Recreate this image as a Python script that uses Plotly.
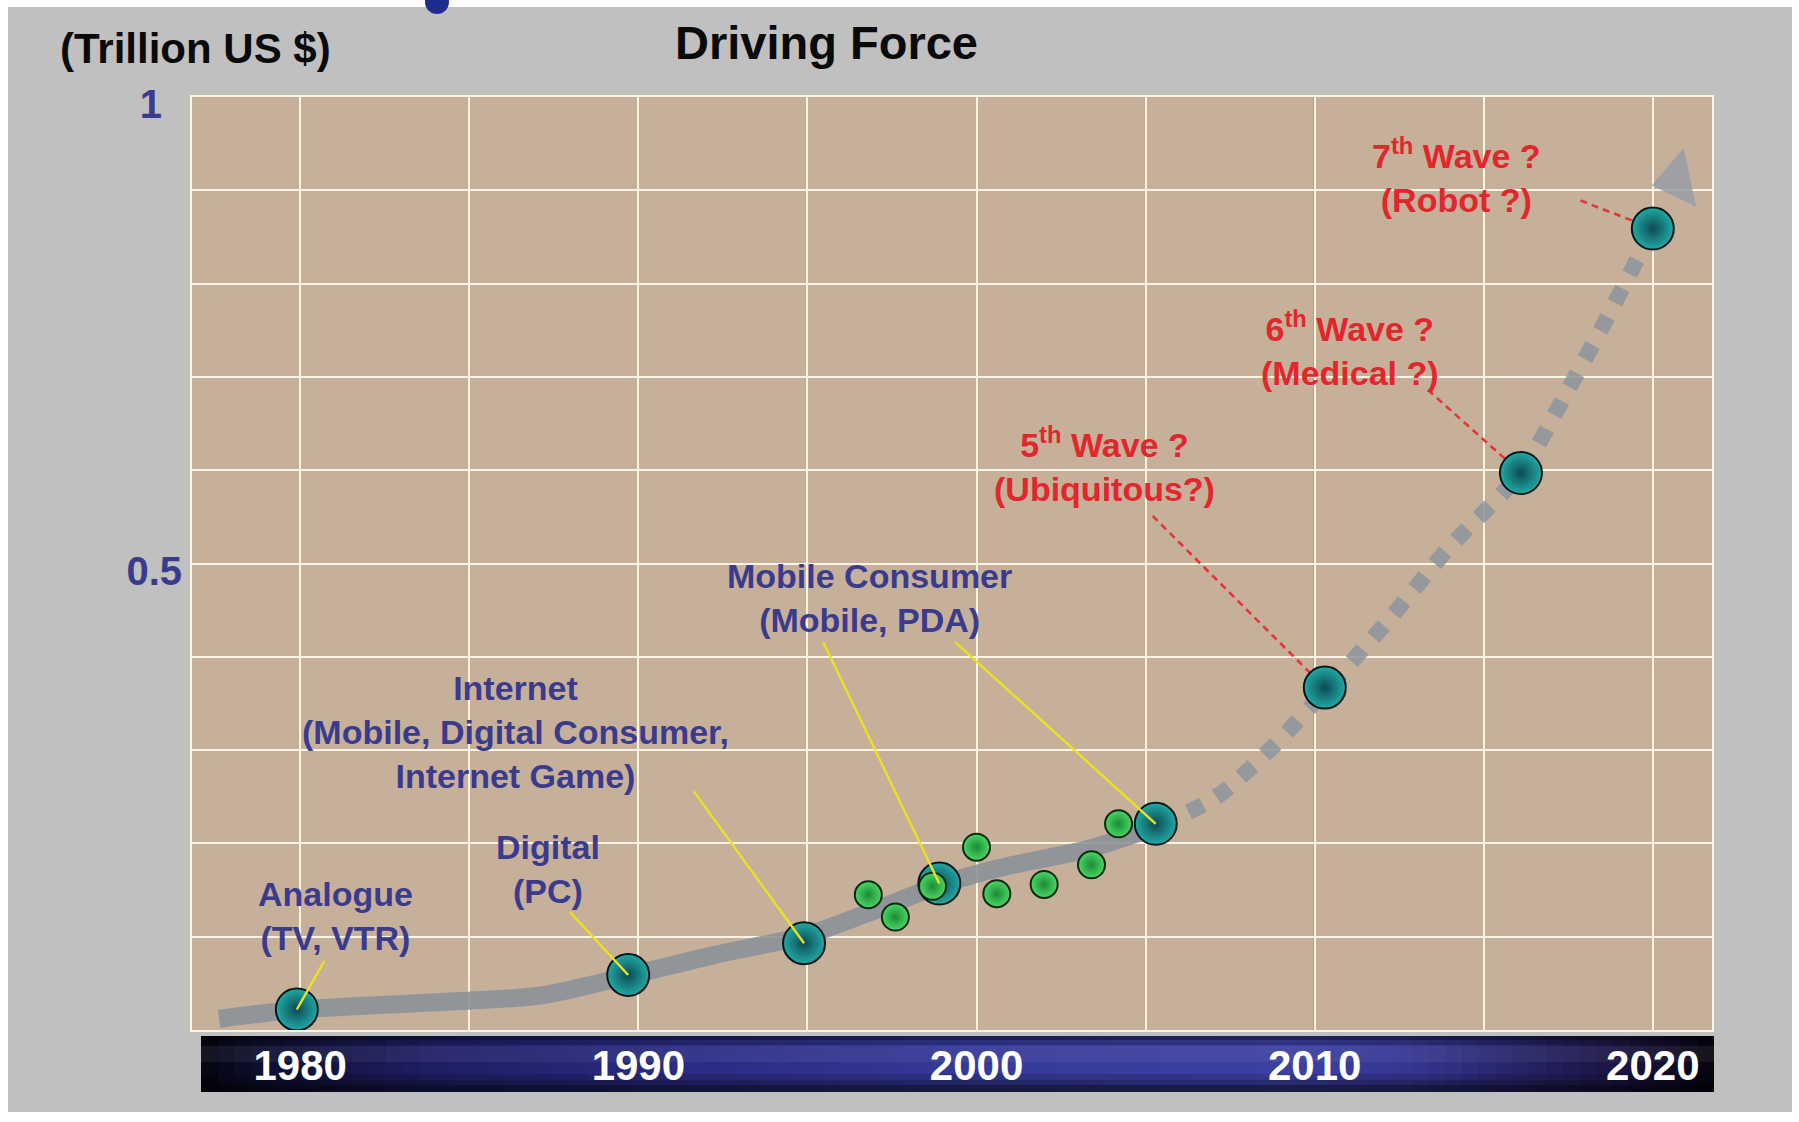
import plotly.graph_objects as go

# ---------------- figure geometry (pixels) ----------------
W, H = 1799, 1122
ML, MR, MT, MB = 192, 87, 97, 92
PW, PH = W - ML - MR, H - MT - MB


def px(x):
    return (x - ML) / PW


def py(y):
    return (H - MB - y) / PH


# ---------------- data ----------------
x_tick_vals = [1980, 1990, 2000, 2010, 2020]
x_tick_text = ["1980", "1990", "2000", "2010", "2020"]
y_tick_vals = [0.5, 1.0]
y_tick_text = ["0.5", "1\u2002"]
highlight_year = 2010

# grey trend band (actual) and its dotted projection
trend_years = [1977.6, 1980.0, 1984.7, 1987.1, 1989.8, 1992.2, 1995.0, 1996.9, 1998.9, 2000.6, 2003.3, 2005.4]
trend_values = [0.012, 0.022, 0.031, 0.037, 0.059, 0.080, 0.102, 0.127, 0.155, 0.173, 0.194, 0.219]
projection_years = [2005.4, 2007.1, 2008.8, 2010.4, 2012.2, 2013.9, 2016.1, 2017.4, 2018.6, 2020.0]
projection_values = [0.219, 0.250, 0.305, 0.367, 0.440, 0.514, 0.598, 0.680, 0.760, 0.859]
arrow_year = [2020.72]
arrow_value = [0.911]

# big teal "wave" markers
wave_years = [1979.9, 1989.7, 1994.9, 1998.9, 2005.3, 2010.3, 2016.1, 2020.0]
wave_values = [0.022, 0.059, 0.093, 0.157, 0.221, 0.367, 0.597, 0.859]

# small green product markers
product_years = [1996.8, 1997.6, 1998.7, 2000.0, 2000.6, 2002.0, 2003.4, 2004.2]
product_values = [0.145, 0.121, 0.154, 0.196, 0.146, 0.156, 0.177, 0.221]

# labels
label_texts = [
    "Analogue<br>(TV, VTR)",
    "Digital<br>(PC)",
    "Internet<br>(Mobile, Digital Consumer,<br>Internet Game)",
    "Mobile Consumer<br>(Mobile, PDA)",
    "5<sup>th</sup> Wave ?<br>(Ubiquitous?)",
    "6<sup>th</sup> Wave ?<br>(Medical ?)",
    "7<sup>th</sup> Wave ?<br>(Robot ?)",
]
label_years = [1981.05, 1987.33, 1986.38, 1996.83, 2003.78, 2011.04, 2014.2]
label_values = [0.1218, 0.1722, 0.3198, 0.4625, 0.6064, 0.730, 0.9164]
label_kind = ["now", "now", "now", "now", "future", "future", "future"]

# leader lines: start point near label -> wave marker index
leader_years = [1980.71, 1987.97, 1991.64, 1995.47, 1999.37, 2005.21, 2013.35, 2017.86]
leader_values = [0.0738, 0.1267, 0.2558, 0.4157, 0.4157, 0.551, 0.686, 0.889]
leader_target = [0, 1, 2, 3, 4, 5, 6, 7]
leader_kind = ["now", "now", "now", "now", "now", "future", "future", "future"]

# ---------------- styles ----------------
FONT = "Liberation Sans, Arial, Helvetica, sans-serif"
BLUE_TEXT = "#3b3b8e"
RED_TEXT = "#e3262b"
YELLOW = "#ebe224"
RED_LINE = "#e0383a"
GRID = "#fbf3e4"
PAPER = "#c0c0c0"
PLOT_BG = "#c7b09a"

fig = go.Figure()

fig.add_trace(go.Scatter(
    x=trend_years, y=trend_values, mode="lines",
    line=dict(color="rgba(138,145,152,0.88)", width=18, shape="spline", smoothing=0.8),
    hoverinfo="skip"))

fig.add_trace(go.Scatter(
    x=projection_years, y=projection_values, mode="lines",
    line=dict(color="rgba(140,148,156,0.85)", width=16, shape="spline", smoothing=0.8, dash="dot"),
    hoverinfo="skip"))

fig.add_trace(go.Scatter(
    x=arrow_year, y=arrow_value, mode="markers",
    marker=dict(symbol="triangle-left", size=52, angle=-12,
                color="rgba(150,158,166,0.85)", line=dict(width=0)),
    hoverinfo="skip"))

fig.add_trace(go.Scatter(
    x=wave_years, y=wave_values, mode="markers",
    marker=dict(size=42, color="#22aaa4",
                gradient=dict(type="radial", color="#0c4a55"),
                line=dict(color="#04181c", width=2)),
    hoverinfo="skip"))

fig.add_trace(go.Scatter(
    x=product_years, y=product_values, mode="markers",
    marker=dict(size=27, color="#4ad866",
                gradient=dict(type="radial", color="#1d8a36"),
                line=dict(color="#0b2a10", width=2)),
    hoverinfo="skip"))

shapes = []

# highlighted 2010 vertical line
shapes.append(dict(type="line", xref="x", yref="paper", x0=highlight_year, x1=highlight_year,
                   y0=0, y1=1, line=dict(color="#8d8f9c", width=2.5), layer="between"))

# leader lines
for lx, ly, t, k in zip(leader_years, leader_values, leader_target, leader_kind):
    if k == "now":
        shapes.append(dict(type="line", xref="x", yref="y", x0=lx, y0=ly,
                           x1=wave_years[t], y1=wave_values[t],
                           line=dict(color=YELLOW, width=2.4), layer="above"))
    else:
        shapes.append(dict(type="line", xref="x", yref="y", x0=lx, y0=ly,
                           x1=wave_years[t], y1=wave_values[t],
                           line=dict(color=RED_LINE, width=2.6, dash="7px,5px"), layer="between"))

# dark navy time bar under the plot (horizontal gradient built from slices)
bar_x0, bar_x1, bar_y0, bar_y1 = 201, 1714, 1036, 1092
bar_stops = [
    (0.00, (6, 6, 18)), (0.04, (14, 14, 46)), (0.15, (30, 30, 100)), (0.32, (42, 44, 130)),
    (0.52, (54, 58, 152)), (0.72, (60, 64, 162)), (0.80, (52, 54, 144)), (0.87, (38, 36, 104)),
    (0.93, (28, 22, 68)), (0.98, (14, 10, 34)), (1.00, (5, 4, 12)),
]


def bar_color(t):
    for (t0, c0), (t1, c1) in zip(bar_stops[:-1], bar_stops[1:]):
        if t0 <= t <= t1:
            f = (t - t0) / (t1 - t0) if t1 > t0 else 0
            return "rgb(%d,%d,%d)" % tuple(round(a + (b - a) * f) for a, b in zip(c0, c1))
    return "rgb(%d,%d,%d)" % bar_stops[-1][1]


n_slices = 90
for i in range(n_slices):
    xa = bar_x0 + (bar_x1 - bar_x0) * i / n_slices
    xb = bar_x0 + (bar_x1 - bar_x0) * (i + 1) / n_slices + 0.8
    shapes.append(dict(type="rect", xref="paper", yref="paper",
                       x0=px(xa), x1=px(min(xb, bar_x1)), y0=py(bar_y1), y1=py(bar_y0),
                       fillcolor=bar_color((i + 0.5) / n_slices), line=dict(width=0), layer="below"))

# vertical shading of the bar
bar_shade = [
    (1036, 1040, "rgba(0,0,0,0.45)"), (1040, 1045, "rgba(0,0,0,0.18)"),
    (1046, 1062, "rgba(255,255,255,0.06)"),
    (1074, 1080, "rgba(0,0,0,0.15)"), (1080, 1085, "rgba(0,0,0,0.32)"),
    (1085, 1092, "rgba(0,0,0,0.55)"),
]
for y0, y1, c in bar_shade:
    shapes.append(dict(type="rect", xref="paper", yref="paper",
                       x0=px(bar_x0), x1=px(bar_x1), y0=py(y1), y1=py(y0),
                       fillcolor=c, line=dict(width=0), layer="below"))

# white border of the picture
for x0, y0, x1, y1 in [(0, 0, W, 7), (0, 0, 8, H), (W - 7, 0, W, H), (0, H - 10, W, H)]:
    shapes.append(dict(type="rect", xref="paper", yref="paper",
                       x0=px(x0), x1=px(x1), y0=py(y1), y1=py(y0),
                       fillcolor="white", line=dict(width=0), layer="above"))
# small cut-off blue blob at the top edge
shapes.append(dict(type="circle", xref="paper", yref="paper",
                   x0=px(425), x1=px(449), y0=py(14), y1=py(-10),
                   fillcolor="#1f2c8c", line=dict(width=0), layer="above"))

annotations = []
for txt, lx, ly, k in zip(label_texts, label_years, label_values, label_kind):
    annotations.append(dict(
        x=lx, y=ly, xref="x", yref="y", text=txt, showarrow=False,
        xanchor="center", yanchor="middle", align="center",
        font=dict(family=FONT, size=34, color=BLUE_TEXT if k == "now" else RED_TEXT, weight="bold")))

annotations.append(dict(
    x=px(826), y=py(42), xref="paper", yref="paper", text="Driving Force", showarrow=False,
    xanchor="center", yanchor="middle",
    font=dict(family=FONT, size=47, color="#0a0a0a", weight="bold")))
annotations.append(dict(
    x=px(195), y=py(48), xref="paper", yref="paper", text="(Trillion US $)", showarrow=False,
    xanchor="center", yanchor="middle",
    font=dict(family=FONT, size=42, color="#0a0a0a", weight="bold")))

fig.update_layout(
    width=W, height=H, autosize=False,
    margin=dict(l=ML, r=MR, t=MT, b=MB, pad=0),
    paper_bgcolor=PAPER, plot_bgcolor=PLOT_BG,
    showlegend=False,
    shapes=shapes, annotations=annotations,
    xaxis=dict(
        range=[1976.8, 2021.75], tickmode="array", tickvals=x_tick_vals, ticktext=x_tick_text,
        showgrid=True, gridcolor=GRID, gridwidth=2, zeroline=False,
        minor=dict(tickmode="linear", tick0=1980, dtick=5, showgrid=True,
                   gridcolor=GRID, gridwidth=2, ticks=""),
        showline=True, linecolor=GRID, linewidth=2, mirror=True, ticks="",
        ticklabelstandoff=-2,
        tickfont=dict(family=FONT, size=42, color="white", weight="bold"),
        fixedrange=True, automargin=False),
    yaxis=dict(
        range=[0, 1], tickmode="array", tickvals=y_tick_vals, ticktext=y_tick_text,
        showgrid=True, gridcolor=GRID, gridwidth=2, zeroline=False,
        minor=dict(tickmode="linear", tick0=0, dtick=0.1, showgrid=True,
                   gridcolor=GRID, gridwidth=2, ticks=""),
        showline=True, linecolor=GRID, linewidth=2, mirror=True, ticks="",
        ticklabelstandoff=0, ticklabelshift=7,
        tickfont=dict(family=FONT, size=40, color=BLUE_TEXT, weight="bold"),
        fixedrange=True, automargin=False),
)

fig.write_html("out.html", config=dict(displayModeBar=False))
